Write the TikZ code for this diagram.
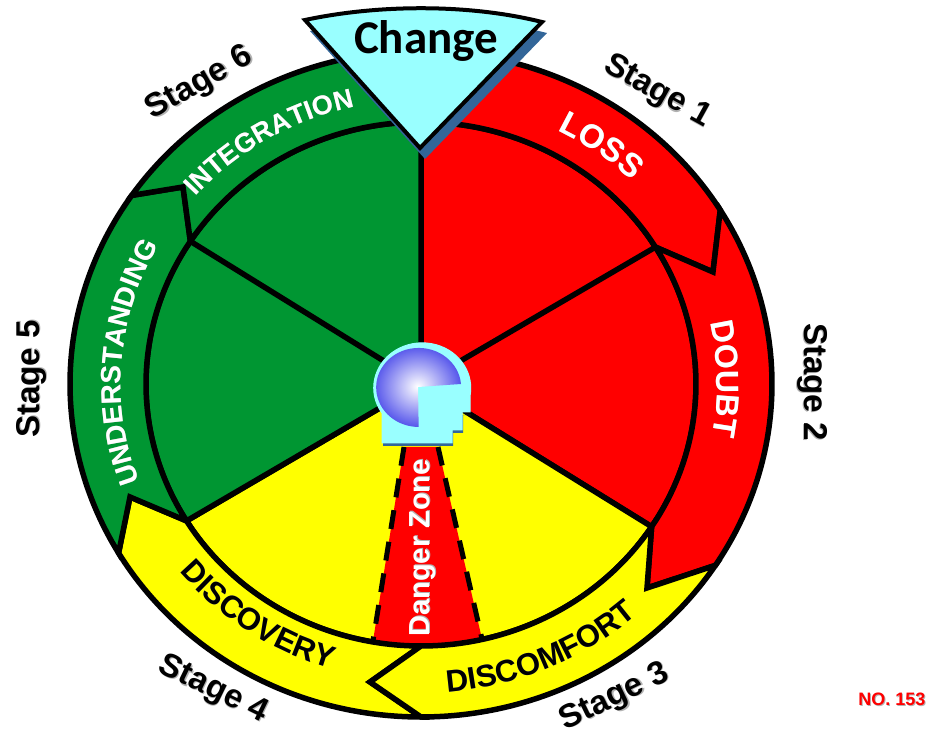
\documentclass[tikz,border=0pt]{standalone}
\usepackage{fontspec}
\setmainfont{Liberation Sans}
\newfontfamily\changefont{Carlito}
\usetikzlibrary{decorations.text}

\definecolor{stagered}{RGB}{255,0,0}
\definecolor{stagegreen}{RGB}{0,150,50}
\definecolor{stageyellow}{RGB}{255,255,0}
\definecolor{headcyan}{RGB}{153,255,255}
\definecolor{shadowblue}{RGB}{51,102,153}
\definecolor{headblue}{RGB}{85,85,235}

\newcommand{\softshadow}[1]{\rlap{\hspace{1pt}\raisebox{-1pt}{\textcolor{gray!60}{#1}}}#1}
% start angle, end angle, x radius, y radius, size, colour, text
\newcommand{\ringlabel}[7]{%
    \path[decorate, shift={(1,-1)}, decoration={text along path, text align=center,
        text={|\fontsize{#5}{#5}\bfseries\color{gray!60}|#7}}]
        ([shift={(#1:#3 and #4)}]hub) arc[start angle=#1, end angle=#2, x radius=#3, y radius=#4];
    \path[decorate, decoration={text along path, text align=center,
        text={|\fontsize{#5}{#5}\bfseries\color{#6}|#7}}]
        ([shift={(#1:#3 and #4)}]hub) arc[start angle=#1, end angle=#2, x radius=#3, y radius=#4];}

\tikzset{
    ringpiece/.style={draw=black, line width=5.5pt},
    spoke/.style={draw=black, line width=5.5pt},
    stagelabel/.style={font=\bfseries\fontsize{33}{33}\selectfont, text=black, inner sep=0pt},
}

\begin{document}
\begin{tikzpicture}[x=1pt, y=1pt]
    \useasboundingbox (0, 0) rectangle (930, 731);
    \coordinate (hub) at (421, 347);

    % points on the two rims
    \foreach \name/\angle in {a/31.5, b/-33, c/-90, d/210.5, e/145.5, f/90} {
        \coordinate (outer-\name) at ([shift={(\angle:351 and 333)}]hub);
    }
    \foreach \name/\angle in {a/31.5, b/-33, c/-90, d/211.5, e/147, f/90} {
        \coordinate (inner-\name) at ([shift={(\angle:275 and 262)}]hub);
    }
    \coordinate (tip-a) at (713, 459);
    \coordinate (tip-b) at (647, 143);
    \coordinate (tip-c) at (370, 49);
    \coordinate (tip-d) at (130, 234);
    \coordinate (tip-e) at (183, 544);

    % inner wedges
    \filldraw[spoke, fill=stagered] (hub) -- (inner-f)
        arc[start angle=90, end angle=-33, x radius=275, y radius=262] -- cycle;
    \filldraw[spoke, fill=stageyellow] (hub) -- (inner-b)
        arc[start angle=-33, end angle=-148.5, x radius=275, y radius=262] -- cycle;
    \filldraw[spoke, fill=stagegreen] (hub) -- (inner-d)
        arc[start angle=211.5, end angle=90, x radius=275, y radius=262] -- cycle;
    \draw[spoke] (hub) -- (inner-a);
    \draw[spoke] (hub) -- (inner-e);

    % danger zone
    \coordinate (danger-nw) at (404, 284);
    \coordinate (danger-ne) at (438, 284);
    \coordinate (danger-sw) at (373, 90);
    \coordinate (danger-se) at (482, 92);
    \fill[stagered] (danger-nw) -- (danger-ne) -- (danger-se) -- (421, 85) -- (danger-sw) -- cycle;
    \draw[line width=5pt, dash pattern=on 19pt off 13pt] (danger-ne) -- (danger-se);
    \draw[line width=5pt, dash pattern=on 19pt off 13pt] (danger-nw) -- (danger-sw);

    % stages on the rim
    \filldraw[ringpiece, fill=stagered] (outer-f)
        arc[start angle=90, end angle=31.5, x radius=351, y radius=333] -- (tip-a) -- (inner-a)
        arc[start angle=31.5, end angle=90, x radius=275, y radius=262] -- cycle;
    \filldraw[ringpiece, fill=stagered] (outer-a)
        arc[start angle=31.5, end angle=-33, x radius=351, y radius=333] -- (tip-b) -- (inner-b)
        arc[start angle=-33, end angle=31.5, x radius=275, y radius=262] -- (tip-a) -- cycle;
    \filldraw[ringpiece, fill=stageyellow] (outer-c)
        arc[start angle=-90, end angle=-149.5, x radius=351, y radius=333] -- (tip-d) -- (inner-d)
        arc[start angle=211.5, end angle=270, x radius=275, y radius=262] -- (tip-c) -- cycle;
    \filldraw[ringpiece, fill=stageyellow] (outer-b)
        arc[start angle=-33, end angle=-90, x radius=351, y radius=333] -- (tip-c) -- (inner-c)
        arc[start angle=-90, end angle=-33, x radius=275, y radius=262] -- (tip-b) -- cycle;
    \filldraw[ringpiece, fill=stagegreen] (outer-d)
        arc[start angle=210.5, end angle=145.5, x radius=351, y radius=333] -- (tip-e) -- (inner-e)
        arc[start angle=147, end angle=211.5, x radius=275, y radius=262] -- (tip-d) -- cycle;
    \filldraw[ringpiece, fill=stagegreen] (outer-e)
        arc[start angle=145.5, end angle=90, x radius=351, y radius=333] -- (inner-f)
        arc[start angle=90, end angle=147, x radius=275, y radius=262] -- (tip-e) -- cycle;

    % rim labels
    \ringlabel{80}{28}{301}{285}{33}{white}{LOSS}
    \ringlabel{31}{-29}{296}{283}{32}{white}{DOUBT}
    \ringlabel{-105}{-28}{325}{309}{31}{black}{DISCOMFORT}
    \ringlabel{204}{268}{312}{297}{31}{black}{DISCOVERY}
    \ringlabel{215.5}{135.5}{300}{285}{28}{white}{UNDERSTANDING}
    \ringlabel{151}{91}{300}{284}{27}{white}{INTEGRATION}

    % head in the middle
    \fill[shadowblue, shift={(1, -3)}] (470, 319) -- (462, 319) -- (462, 301)
        -- (452, 301) -- (452, 288) -- (382, 288) -- (382, 318) -- cycle;
    \filldraw[draw=headcyan, fill=headcyan, line width=1pt] (470, 341) -- (470, 319) -- (462, 319)
        -- (462, 301) -- (452, 301) -- (452, 288) -- (382, 288) -- (382, 318)
        arc[start angle=214, end angle=-5, x radius=48.5, y radius=45] -- cycle;
    \shade[inner color=white, outer color=headblue] (418, 344) -- (461, 347)
        arc[start angle=5, end angle=270, x radius=42.5, y radius=39.5] -- cycle;

    % change wedge
    \coordinate (wedge-l) at (305, 711);
    \coordinate (wedge-r) at (542, 709);
    \coordinate (wedge-b) at (420, 583);
    \fill[shadowblue, shift={(5, -11)}] (305, 711) .. controls (380, 727) and (470, 727) .. (542, 709)
        -- (420, 583) -- cycle;
    \filldraw[draw=black, fill=headcyan, line width=4pt] (wedge-l)
        .. controls (380, 727) and (470, 727) .. (wedge-r) -- (wedge-b) -- cycle;
    \node[inner sep=0pt] (change) at (426, 690) {\changefont\bfseries\fontsize{47}{47}\selectfont Change};

    % labels round the outside
    \node[stagelabel, rotate=-29] (stage-one)   at (657, 639) {\softshadow{Stage 1}};
    \node[stagelabel, rotate=-90] (stage-two)   at (812, 349) {\softshadow{Stage 2}};
    \node[stagelabel, rotate=26]  (stage-three) at (615, 33)  {\softshadow{Stage 3}};
    \node[stagelabel, rotate=-26] (stage-four)  at (213, 41)  {\softshadow{Stage 4}};
    \node[stagelabel, rotate=90]  (stage-five)  at (32, 352)  {\softshadow{Stage 5}};
    \node[stagelabel, rotate=30]  (stage-six)   at (200, 647) {\softshadow{Stage 6}};
    \node[inner sep=0pt, rotate=90, text=white, font=\bfseries\fontsize{29}{29}\selectfont]
        (danger) at (423, 183) {\softshadow{Danger Zone}};
    \node[inner sep=0pt, text=red, font=\bfseries\fontsize{18}{18}\selectfont]
        (plate) at (892, 31) {\softshadow{NO. 153}};
\end{tikzpicture}
\end{document}
